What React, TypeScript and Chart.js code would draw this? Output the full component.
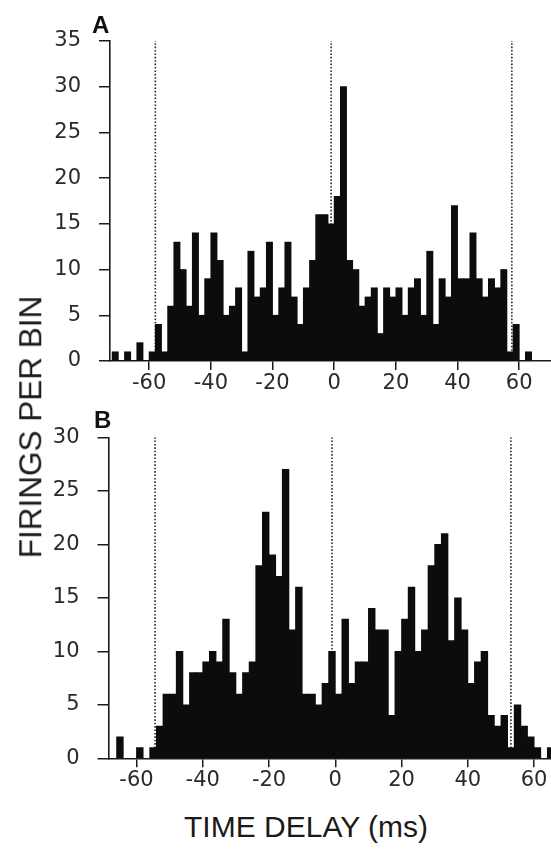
import React, { useEffect, useRef } from "react";
import { Chart, registerables } from "chart.js";

Chart.register(...registerables);

// ---------- data ----------
const binWidthMs = 2;

const binStartsA = [
  -72, -70, -68, -66, -64, -62, -60, -58, -56, -54,
  -52, -50, -48, -46, -44, -42, -40, -38, -36, -34,
  -32, -30, -28, -26, -24, -22, -20, -18, -16, -14,
  -12, -10, -8, -6, -4, -2, 0, 2, 4, 6,
  8, 10, 12, 14, 16, 18, 20, 22, 24, 26,
  28, 30, 32, 34, 36, 38, 40, 42, 44, 46,
  48, 50, 52, 54, 56, 58, 60, 62,
];
const firingsA = [
  1, 0, 1, 0, 2, 0, 1, 4, 1, 6,
  13, 10, 6, 14, 5, 9, 14, 11, 5, 6,
  8, 1, 12, 7, 8, 13, 5, 8, 13, 7,
  4, 8, 11, 16, 16, 15, 18, 30, 11, 10,
  6, 7, 8, 3, 8, 7, 8, 5, 8, 9,
  5, 12, 4, 9, 7, 17, 9, 9, 14, 9,
  7, 9, 8, 10, 1, 4, 0, 1,
];

const binStartsB = [
  -68, -66, -64, -62, -60, -58, -56, -54, -52, -50,
  -48, -46, -44, -42, -40, -38, -36, -34, -32, -30,
  -28, -26, -24, -22, -20, -18, -16, -14, -12, -10,
  -8, -6, -4, -2, 0, 2, 4, 6, 8, 10,
  12, 14, 16, 18, 20, 22, 24, 26, 28, 30,
  32, 34, 36, 38, 40, 42, 44, 46, 48, 50,
  52, 54, 56, 58, 60, 62, 64,
];
const firingsB = [
  0, 2, 0, 0, 1, 0, 1, 3, 6, 6,
  10, 5, 8, 8, 9, 10, 9, 13, 8, 6,
  8, 9, 18, 23, 19, 17, 27, 12, 16, 6,
  6, 5, 7, 10, 6, 13, 7, 9, 9, 14,
  12, 12, 4, 10, 13, 16, 10, 12, 18, 20,
  21, 11, 15, 12, 7, 9, 10, 4, 3, 4,
  1, 5, 3, 2, 1, 0, 1,
];

// dotted reference lines (ms)
const markersA = [-58, -1, 57.6];
const markersB = [-54.4, -1, 53];

const xTickValues = [-60, -40, -20, 0, 20, 40, 60];
const yTickValuesA = [0, 5, 10, 15, 20, 25, 30, 35];
const yTickValuesB = [0, 5, 10, 15, 20, 25, 30];

// ---------- layout / style ----------
const INK = "#0c0c0c";
const AXIS = "#1c1c1c";
const TICK_FONT = { family: "'DejaVu Sans', sans-serif", size: 21 };

type PanelCfg = {
  canvasTop: number;
  canvasHeight: number;
  plotTop: number;
  plotBottom: number;
  yAxisWidth: number;
  xMin: number;
  xMax: number;
  yMax: number;
  yTicks: number[];
  starts: number[];
  counts: number[];
  markers: number[];
};

const panelA: PanelCfg = {
  canvasTop: 0,
  canvasHeight: 400,
  plotTop: 41,
  plotBottom: 361,
  yAxisWidth: 110,
  xMin: -72.7,
  xMax: 70.3,
  yMax: 35,
  yTicks: yTickValuesA,
  starts: binStartsA,
  counts: firingsA,
  markers: markersA,
};

const panelB: PanelCfg = {
  canvasTop: 400,
  canvasHeight: 400,
  plotTop: 37.3,
  plotBottom: 358.3,
  yAxisWidth: 108.5,
  xMin: -68.45,
  xMax: 65.1,
  yMax: 30,
  yTicks: yTickValuesB,
  starts: binStartsB,
  counts: firingsB,
  markers: markersB,
};

function Histogram({ cfg }: { cfg: PanelCfg }) {
  const ref = useRef<HTMLCanvasElement | null>(null);

  useEffect(() => {
    if (!ref.current) return;
    const bars = cfg.starts.map((s, i) => ({ x: s + binWidthMs / 2, y: cfg.counts[i] }));
    const markerSets = cfg.markers.map((m) => ({
      type: "line" as const,
      data: [
        { x: m, y: 0 },
        { x: m, y: cfg.yMax },
      ],
      borderColor: "#2a2a2a",
      borderWidth: 1.6,
      borderDash: [1.6, 1.8],
      pointRadius: 0,
      fill: false,
      order: 2,
    }));
    const chart = new Chart(ref.current, {
      type: "bar",
      data: {
        datasets: [
          {
            type: "bar",
            data: bars,
            backgroundColor: INK,
            borderWidth: 0,
            barPercentage: 1,
            categoryPercentage: 1,
            inflateAmount: 0.4,
            order: 1,
          } as any,
          ...(markerSets as any[]),
        ],
      },
      options: {
        animation: false,
        responsive: false,
        devicePixelRatio: 1,
        events: [],
        layout: { padding: { top: cfg.plotTop, left: 0, right: 0, bottom: 0 } },
        plugins: { legend: { display: false }, tooltip: { enabled: false } },
        scales: {
          x: {
            type: "linear",
            min: cfg.xMin,
            max: cfg.xMax,
            offset: false,
            grid: {
              offset: false,
              display: true,
              drawOnChartArea: false,
              drawTicks: true,
              tickLength: 9,
              color: AXIS,
              lineWidth: 1.5,
            },
            border: { display: true, color: AXIS, width: 1.6 },
            ticks: {
              autoSkip: false,
              maxRotation: 0,
              minRotation: 0,
              padding: 1,
              color: "#2a2a2a",
              font: TICK_FONT,
            },
            afterBuildTicks: (s: any) => {
              s.ticks = xTickValues.map((v) => ({ value: v }));
            },
            afterFit: (s: any) => {
              s.height = cfg.canvasHeight - cfg.plotBottom;
            },
          },
          y: {
            type: "linear",
            min: 0,
            max: cfg.yMax,
            grid: {
              display: true,
              drawOnChartArea: false,
              drawTicks: true,
              tickLength: 11,
              color: AXIS,
              lineWidth: 1.5,
            },
            border: { display: true, color: AXIS, width: 1.6 },
            ticks: {
              padding: 18,
              color: "#2a2a2a",
              font: TICK_FONT,
            },
            afterBuildTicks: (s: any) => {
              s.ticks = cfg.yTicks.map((v) => ({ value: v }));
            },
            afterFit: (s: any) => {
              s.width = cfg.yAxisWidth;
            },
          },
        },
      } as any,
    });
    return () => chart.destroy();
  }, [cfg]);

  return (
    <canvas
      ref={ref}
      width={551}
      height={cfg.canvasHeight}
      style={{ position: "absolute", left: 0, top: cfg.canvasTop, width: 551, height: cfg.canvasHeight }}
    />
  );
}

const titleFont = "'Liberation Sans', Arial, sans-serif";

export default function App() {
  return (
    <div
      style={{
        position: "absolute",
        left: 0,
        top: 0,
        width: 551,
        height: 849,
        background: "#ffffff",
        overflow: "hidden",
      }}
    >
      <Histogram cfg={panelA} />
      <Histogram cfg={panelB} />
      <div
        style={{
          position: "absolute",
          left: 92,
          top: 13,
          fontFamily: titleFont,
          fontWeight: 700,
          fontSize: 24,
          lineHeight: 1,
          color: "#111",
        }}
      >
        A
      </div>
      <div
        style={{
          position: "absolute",
          left: 94,
          top: 408,
          fontFamily: titleFont,
          fontWeight: 700,
          fontSize: 24,
          lineHeight: 1,
          color: "#111",
        }}
      >
        B
      </div>
      <div
        style={{
          position: "absolute",
          left: 31,
          top: 427,
          transform: "translate(-50%, -50%) rotate(-90deg)",
          fontFamily: titleFont,
          fontSize: 31.5,
          lineHeight: 1,
          whiteSpace: "nowrap",
          color: "#1a1a1a",
        }}
      >
        FIRINGS PER BIN
      </div>
      <div
        style={{
          position: "absolute",
          left: 306,
          top: 812,
          transform: "translateX(-50%)",
          fontFamily: titleFont,
          fontSize: 30,
          lineHeight: 1,
          whiteSpace: "nowrap",
          color: "#1a1a1a",
        }}
      >
        TIME DELAY (ms)
      </div>
    </div>
  );
}
